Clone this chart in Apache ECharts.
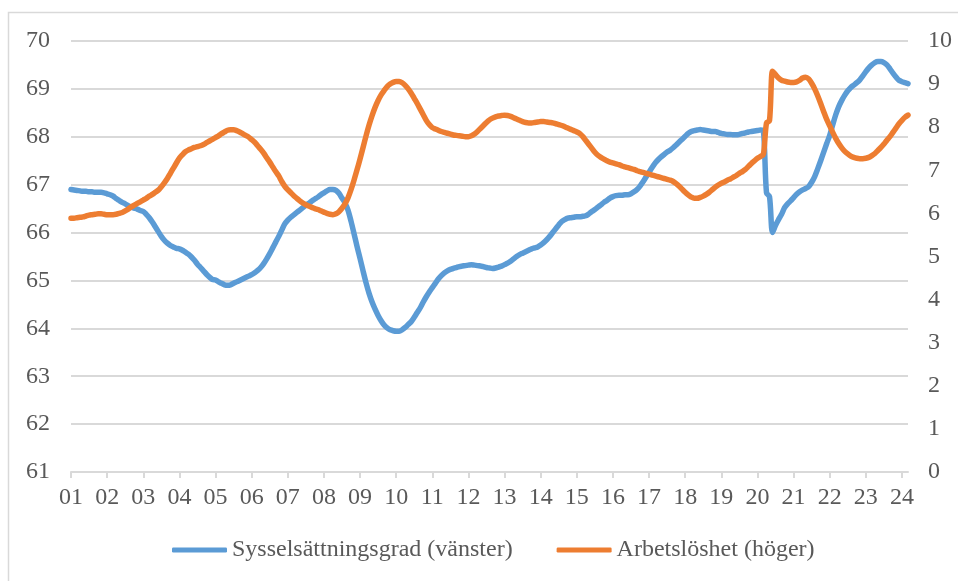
<!DOCTYPE html>
<html>
<head>
<meta charset="utf-8">
<script src="https://cdn.jsdelivr.net/npm/echarts@6/dist/echarts.min.js"></script>
<style>
  html, body { margin: 0; padding: 0; background: #fff; }
  #graph { width: 958px; height: 581px; }
</style>
</head>
<body>
<div id="graph"></div>
<script>
// monthly data, Jan 2001 - Mar 2024
var years = ['01','02','03','04','05','06','07','08','09','10','11','12',
             '13','14','15','16','17','18','19','20','21','22','23','24'];
var lastYearMonths = 3;

// Sysselsättningsgrad (vänster), one row per year
var employment = [
  66.90, 66.89, 66.88, 66.87, 66.86, 66.86, 66.85, 66.85, 66.84, 66.84, 66.84, 66.83,
  66.81, 66.79, 66.76, 66.71, 66.67, 66.63, 66.60, 66.56, 66.53, 66.51, 66.49, 66.46,
  66.44, 66.38, 66.31, 66.22, 66.12, 66.02, 65.92, 65.84, 65.78, 65.73, 65.70, 65.67,
  65.66, 65.63, 65.59, 65.55, 65.49, 65.42, 65.34, 65.27, 65.20, 65.13, 65.07, 65.02,
  65.01, 64.97, 64.94, 64.91, 64.90, 64.91, 64.94, 64.97, 65.00, 65.03, 65.06, 65.09,
  65.12, 65.16, 65.21, 65.27, 65.35, 65.45, 65.56, 65.68, 65.80, 65.92, 66.05, 66.18,
  66.26, 66.32, 66.37, 66.42, 66.47, 66.52, 66.57, 66.61, 66.66, 66.70, 66.74, 66.79,
  66.83, 66.87, 66.90, 66.90, 66.88, 66.82, 66.72, 66.62, 66.47, 66.24, 65.98, 65.71,
  65.46, 65.20, 64.95, 64.73, 64.55, 64.40, 64.27, 64.16, 64.07, 64.01, 63.97, 63.95,
  63.94, 63.94, 63.97, 64.02, 64.08, 64.14, 64.23, 64.33, 64.43, 64.55, 64.66, 64.76,
  64.85, 64.94, 65.03, 65.10, 65.16, 65.20, 65.23, 65.25, 65.27, 65.29, 65.30, 65.31,
  65.32, 65.33, 65.32, 65.31, 65.30, 65.29, 65.27, 65.26, 65.25, 65.26, 65.28, 65.30,
  65.33, 65.36, 65.40, 65.45, 65.50, 65.54, 65.57, 65.60, 65.63, 65.66, 65.68, 65.70,
  65.74, 65.79, 65.85, 65.92, 66.00, 66.08, 66.16, 66.23, 66.27, 66.30, 66.31, 66.32,
  66.33, 66.33, 66.34, 66.35, 66.39, 66.44, 66.48, 66.53, 66.58, 66.63, 66.67, 66.72,
  66.75, 66.77, 66.78, 66.78, 66.79, 66.79, 66.81, 66.85, 66.90, 66.97, 67.06, 67.16,
  67.26, 67.36, 67.45, 67.52, 67.58, 67.63, 67.68, 67.72, 67.77, 67.83, 67.89, 67.95,
  68.01, 68.07, 68.11, 68.13, 68.14, 68.15, 68.14, 68.13, 68.12, 68.11, 68.11, 68.09,
  68.07, 68.06, 68.05, 68.05, 68.04, 68.04, 68.05, 68.07, 68.08, 68.10, 68.11, 68.12,
  68.13, 68.14, 68.12, 66.83, 66.75, 66.00, 66.15, 66.27, 66.38, 66.52, 66.60, 66.66,
  66.73, 66.80, 66.85, 66.89, 66.92, 66.96, 67.05, 67.17, 67.33, 67.50, 67.68, 67.86,
  68.03, 68.25, 68.46, 68.63, 68.76, 68.87, 68.96, 69.03, 69.08, 69.13, 69.19, 69.27,
  69.36, 69.44, 69.50, 69.55, 69.57, 69.57, 69.55, 69.50, 69.42, 69.33, 69.25, 69.18,
  69.15, 69.13, 69.11
];

// Arbetslöshet (höger), one row per year
var unemployment = [
  5.89, 5.89, 5.90, 5.91, 5.92, 5.94, 5.96, 5.97, 5.98, 5.99, 5.99, 5.98,
  5.97, 5.97, 5.97, 5.98, 6.00, 6.02, 6.06, 6.10, 6.15, 6.19, 6.23, 6.27,
  6.31, 6.35, 6.40, 6.44, 6.49, 6.54, 6.62, 6.71, 6.81, 6.93, 7.05, 7.17,
  7.28, 7.36, 7.43, 7.47, 7.50, 7.53, 7.55, 7.57, 7.60, 7.64, 7.68, 7.72,
  7.76, 7.80, 7.85, 7.89, 7.93, 7.94, 7.94, 7.92, 7.89, 7.85, 7.81, 7.77,
  7.71, 7.65, 7.57, 7.49, 7.40, 7.29, 7.19, 7.08, 6.97, 6.87, 6.74, 6.63,
  6.55, 6.48, 6.41, 6.35, 6.29, 6.24, 6.20, 6.17, 6.14, 6.11, 6.09, 6.06,
  6.03, 6.00, 5.98, 5.97, 5.99, 6.04, 6.12, 6.22, 6.36, 6.55, 6.77, 7.01,
  7.26, 7.53, 7.80, 8.05, 8.27, 8.46, 8.62, 8.75, 8.85, 8.94, 9.00, 9.04,
  9.06, 9.06, 9.03, 8.97, 8.89, 8.79, 8.67, 8.55, 8.42, 8.29, 8.16, 8.06,
  7.99, 7.96, 7.93, 7.90, 7.88, 7.86, 7.84, 7.82, 7.81, 7.80, 7.79, 7.78,
  7.78, 7.80, 7.84, 7.90, 7.97, 8.04, 8.11, 8.17, 8.21, 8.24, 8.26, 8.27,
  8.28, 8.27, 8.25, 8.22, 8.19, 8.16, 8.13, 8.11, 8.10, 8.10, 8.11, 8.12,
  8.13, 8.13, 8.12, 8.11, 8.10, 8.08, 8.06, 8.04, 8.01, 7.98, 7.95, 7.92,
  7.89, 7.85, 7.78, 7.69, 7.60, 7.51, 7.42, 7.35, 7.30, 7.26, 7.22, 7.19,
  7.17, 7.15, 7.13, 7.10, 7.08, 7.06, 7.04, 7.02, 6.99, 6.97, 6.95, 6.93,
  6.91, 6.89, 6.87, 6.85, 6.83, 6.81, 6.79, 6.77, 6.74, 6.69, 6.63, 6.56,
  6.49, 6.43, 6.38, 6.35, 6.35, 6.37, 6.40, 6.44, 6.49, 6.55, 6.61, 6.66,
  6.70, 6.73, 6.77, 6.80, 6.84, 6.88, 6.93, 6.97, 7.02, 7.09, 7.16, 7.22,
  7.28, 7.32, 7.38, 8.10, 8.15, 9.30, 9.22, 9.14, 9.09, 9.07, 9.05, 9.04,
  9.04, 9.05, 9.09, 9.14, 9.16, 9.12, 9.02, 8.89, 8.73, 8.55, 8.36, 8.18,
  8.03, 7.88, 7.74, 7.62, 7.52, 7.44, 7.38, 7.33, 7.30, 7.28, 7.27, 7.27,
  7.28, 7.30, 7.34, 7.39, 7.46, 7.53, 7.61, 7.70, 7.78, 7.88, 7.98, 8.08,
  8.16, 8.23, 8.28
];

var months = [];
years.forEach(function (y, k) {
    var n = (k === years.length - 1) ? lastYearMonths : 12;
    for (var m = 0; m < n; m++) {
        months.push(y + '-' + (m + 1));
    }
});

var font = '"Liberation Serif", "Times New Roman", serif';
var grey = '#595959';
var gridGrey = '#d9d9d9';
var isYearStart = function (idx) { return idx % 12 === 0; };

var dom = document.getElementById('graph');
var chart = echarts.init(dom);

chart.setOption({
    animation: false,
    textStyle: { fontFamily: font },
    graphic: [{
        type: 'rect',
        shape: { x: 8.5, y: 12.5, width: 1000, height: 1000 },
        style: { fill: 'none', stroke: gridGrey, lineWidth: 1.5 },
        silent: true
    }],
    grid: { left: 71, right: 50, top: 41, bottom: 109 },
    legend: {
        left: 172,
        top: 538,
        padding: 0,
        itemWidth: 55,
        itemHeight: 5,
        itemGap: 44,
        icon: 'roundRect',
        textStyle: { fontFamily: font, fontSize: 24, color: grey }
    },
    xAxis: {
        type: 'category',
        boundaryGap: false,
        data: months,
        axisLine: { lineStyle: { color: gridGrey, width: 2 } },
        axisTick: { interval: isYearStart, length: 6, lineStyle: { color: gridGrey, width: 2 } },
        axisLabel: {
            interval: isYearStart,
            margin: 14,
            color: grey,
            fontFamily: font,
            fontSize: 24,
            formatter: function (v) { return v.split('-')[0]; }
        },
        splitLine: { show: false }
    },
    yAxis: [{
        type: 'value',
        min: 61,
        max: 70,
        interval: 1,
        axisLine: { show: false },
        axisTick: { show: false },
        axisLabel: { margin: 21, color: grey, fontFamily: font, fontSize: 24 },
        splitLine: { lineStyle: { color: gridGrey, width: 2 } }
    }, {
        type: 'value',
        min: 0,
        max: 10,
        interval: 1,
        axisLine: { show: false },
        axisTick: { show: false },
        axisLabel: { margin: 20, color: grey, fontFamily: font, fontSize: 24 },
        splitLine: { show: false }
    }],
    series: [{
        name: 'Sysselsättningsgrad (vänster)',
        type: 'line',
        yAxisIndex: 0,
        data: employment,
        smooth: 0.3,
        showSymbol: false,
        symbol: 'none',
        color: '#5B9BD5',
        lineStyle: { width: 5.5, color: '#5B9BD5', cap: 'round', join: 'round' }
    }, {
        name: 'Arbetslöshet (höger)',
        type: 'line',
        yAxisIndex: 1,
        data: unemployment,
        smooth: 0.3,
        showSymbol: false,
        symbol: 'none',
        color: '#ED7D31',
        lineStyle: { width: 5.5, color: '#ED7D31', cap: 'round', join: 'round' }
    }]
});
</script>
</body>
</html>
